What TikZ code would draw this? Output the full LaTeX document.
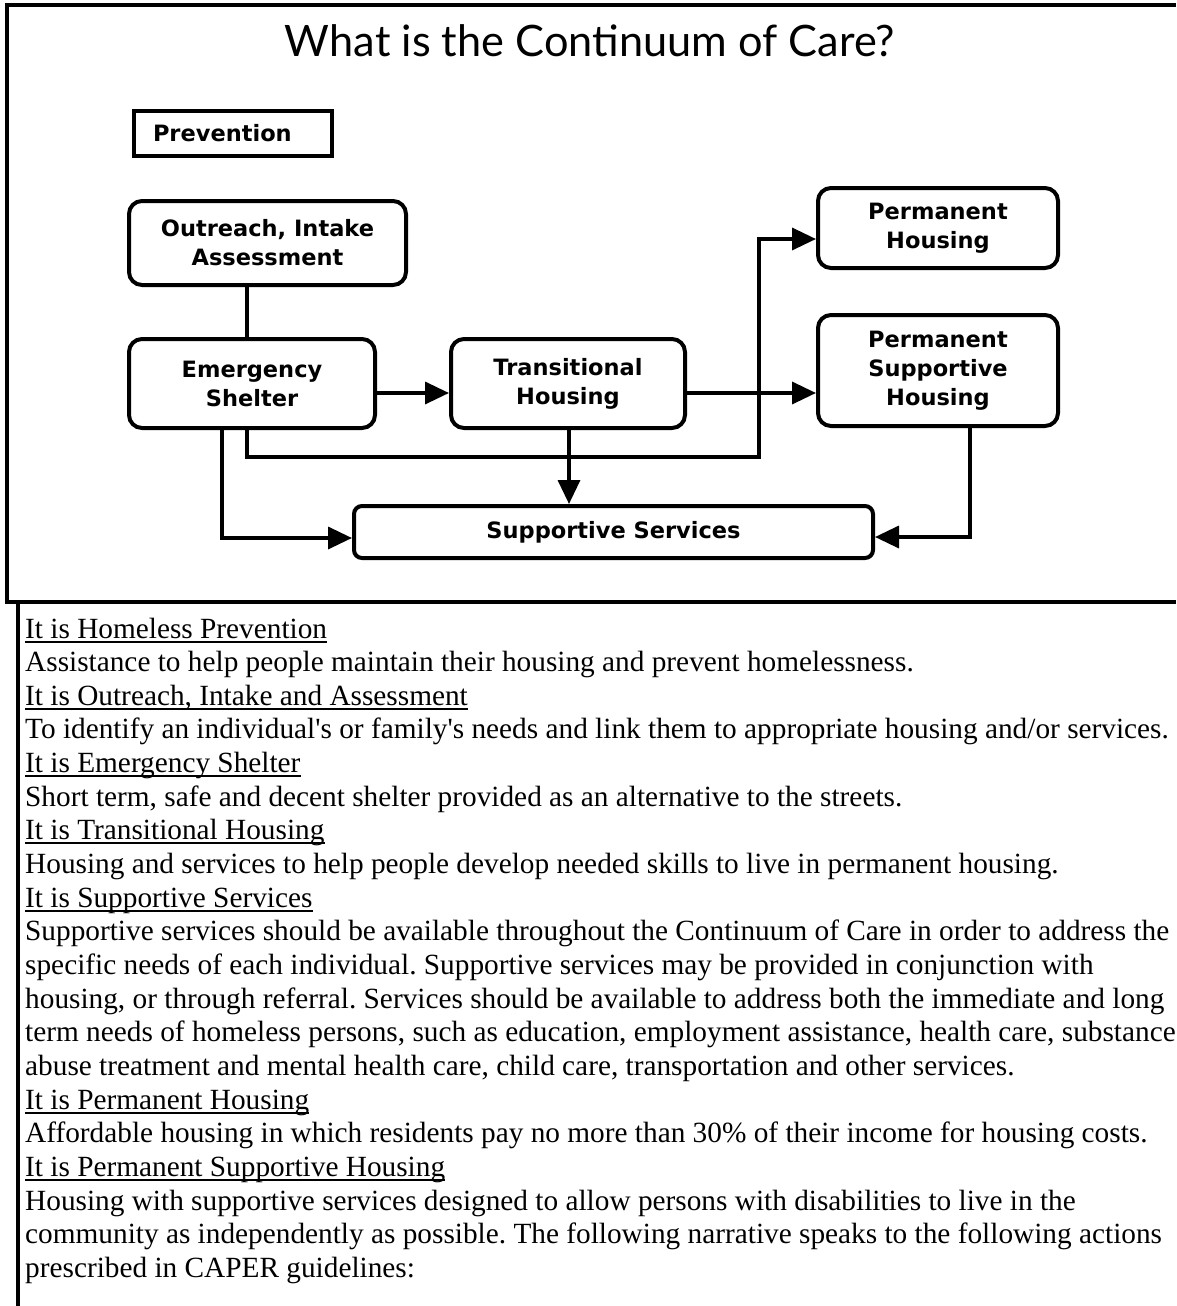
\documentclass[tikz,border=0pt]{standalone}
\usepackage{fontspec}
\setmainfont{Liberation Serif}
\newfontfamily\boxfont{DejaVu Sans}
\newfontfamily\titlefont{Lato}
\usetikzlibrary{arrows.meta}
\newcommand\bodyline[3]{\node[body] (#1) at (25,#2) {#3};}
\frenchspacing
\begin{document}
\begin{tikzpicture}[x=1pt,y=-1pt,
  box/.style={draw, line width=4pt, rounded corners=13pt, align=center, inner sep=0pt,
    font=\boxfont\bfseries\fontsize{22.5}{29}\selectfont},
  conn/.style={line width=3.5pt},
  arr/.style={conn, -{Triangle[length=24pt,width=22pt]}},
  frame/.style={line width=4pt},
  body/.style={anchor=base west, inner sep=0pt, font=\frenchspacing\fontsize{29.3}{33.65}\selectfont},
  uline/.style={line width=2pt}]
\useasboundingbox (0,0) rectangle (1176,1306);
\fill[white] (0,0) rectangle (1176,1306);
% frames
\draw[frame] (1176,5) -- (6.5,5) -- (6.5,602) -- (1176,602);
\draw[frame] (18,602) -- (18,1306);
% title
\node[font=\titlefont\fontsize{43.3}{50}\selectfont, anchor=base, inner sep=0pt] (title) at (590,57) {What is the Continuum of Care?};
% boxes
\node[draw, line width=3.5pt, minimum width=198pt, minimum height=45pt, text width=160pt, align=left,
  inner xsep=19pt, inner ysep=0pt, font=\boxfont\bfseries\fontsize{22.5}{29}\selectfont] (prev) at (233,133.5) {Prevention};
\node[box, minimum width=277pt, minimum height=84pt] (out) at (267.5,243) {Outreach, Intake\\Assessment};
\node[box, minimum width=246pt, minimum height=89pt] (es) at (252,383.5) {Emergency\\Shelter};
\node[box, minimum width=234pt, minimum height=89pt] (th) at (568,383.5) {Transitional\\Housing};
\node[box, minimum width=240pt, minimum height=80pt] (ph) at (938,228) {Permanent\\Housing};
\node[box, minimum width=240pt, minimum height=111pt] (psh) at (938,370.5) {Permanent\\Supportive\\Housing};
\node[box, rounded corners=8pt, minimum width=519pt, minimum height=52pt] (ss) at (613.5,532) {Supportive Services};
% helper coordinates
\coordinate (xa) at (247,0);
\coordinate (xb) at (222,0);
\coordinate (xc) at (569,0);
\coordinate (xd) at (759,0);
\coordinate (xe) at (970,0);
\coordinate (ya) at (0,393);
\coordinate (yb) at (0,457);
\coordinate (yc) at (0,538);
\coordinate (yd) at (0,239);
\coordinate (ye) at (0,537);
% connectors
\draw[conn] (out.south -| xa) -- (es.north -| xa);
\draw[arr] (es.east |- ya) -- (th.west |- ya);
\draw[arr] (th.east |- ya) -- (psh.west |- ya);
\draw[arr] (es.south -| xa) |- (xd |- yb) |- (ph.west |- yd);
\draw[arr] (es.south -| xb) |- (ss.west |- yc);
\draw[arr] (th.south -| xc) -- (ss.north -| xc);
\draw[arr] (psh.south -| xe) |- (ss.east |- ye);
% body text
\bodyline{t1}{638}{It is Homeless Prevention}
\bodyline{t2}{671.65}{Assistance to help people maintain their housing and prevent homelessness.}
\bodyline{t3}{705.3}{It is Outreach, Intake and Assessment}
\bodyline{t4}{738.95}{To identify an individual\textquotesingle s or family\textquotesingle s needs and link them to appropriate housing and/or services.}
\bodyline{t5}{772.6}{It is Emergency Shelter}
\bodyline{t6}{806.25}{Short term, safe and decent shelter provided as an alternative to the streets.}
\bodyline{t7}{839.9}{It is Transitional Housing}
\bodyline{t8}{873.55}{Housing and services to help people develop needed skills to live in permanent housing.}
\bodyline{t9}{907.2}{It is Supportive Services}
\bodyline{t10}{940.85}{Supportive services should be available throughout the Continuum of Care in order to address the}
\bodyline{t11}{974.5}{specific needs of each individual. Supportive services may be provided in conjunction with}
\bodyline{t12}{1008.15}{housing, or through referral. Services should be available to address both the immediate and long}
\bodyline{t13}{1041.8}{term needs of homeless persons, such as education, employment assistance, health care, substance}
\bodyline{t14}{1075.45}{abuse treatment and mental health care, child care, transportation and other services.}
\bodyline{t15}{1109.1}{It is Permanent Housing}
\bodyline{t16}{1142.75}{Affordable housing in which residents pay no more than 30\% of their income for housing costs.}
\bodyline{t17}{1176.4}{It is Permanent Supportive Housing}
\bodyline{t18}{1210.05}{Housing with supportive services designed to allow persons with disabilities to live in the}
\bodyline{t19}{1243.7}{community as independently as possible. The following narrative speaks to the following actions}
\bodyline{t20}{1277.35}{prescribed in CAPER guidelines:}
\foreach \n in {t1,t3,t5,t7,t9,t15,t17}
  \draw[uline] ([yshift=-3.5pt]\n.base west) -- ([yshift=-3.5pt]\n.base east);
\end{tikzpicture}
\end{document}
